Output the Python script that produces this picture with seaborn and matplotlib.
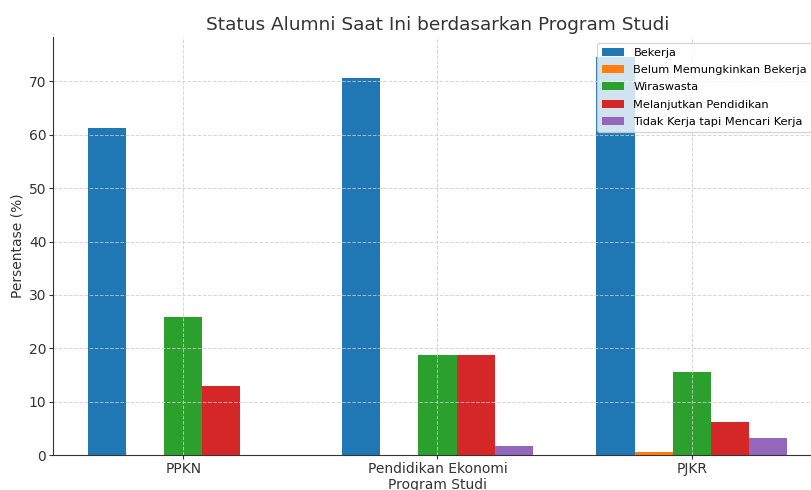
import matplotlib
matplotlib.use("Agg")
import matplotlib.pyplot as plt
import seaborn as sns
import pandas as pd

programs = ["PPKN", "Pendidikan Ekonomi", "PJKR"]
statuses = ["Bekerja", "Belum Memungkinkan Bekerja", "Wiraswasta",
            "Melanjutkan Pendidikan", "Tidak Kerja tapi Mencari Kerja"]
bekerja = [61.3, 70.6, 74.6]
belum = [0.0, 0.0, 0.6]
wiraswasta = [25.8, 18.8, 15.5]
melanjutkan = [12.9, 18.8, 6.2]
tidak_kerja = [0.0, 1.7, 3.1]

series = [bekerja, belum, wiraswasta, melanjutkan, tidak_kerja]
rows = []
for s, vals in zip(statuses, series):
    for p, v in zip(programs, vals):
        rows.append({"Program Studi": p, "Status": s, "Persentase": v})
df = pd.DataFrame(rows)

colors = ["#1f77b4", "#ff7f0e", "#2ca02c", "#d62728", "#9467bd"]

fig = plt.figure(figsize=(8.11, 4.90), dpi=100)
ax = fig.add_axes([53 / 811, 1 - 455 / 490, (822 - 53) / 811, (455 - 37) / 490])

sns.barplot(data=df, x="Program Studi", y="Persentase", hue="Status",
            order=programs, hue_order=statuses, palette=colors,
            saturation=1, width=0.75, gap=0, ax=ax, linewidth=0)

ax.set_xlim(-0.5125, 2.5125)
ax.set_ylim(0, 78.33)
ax.set_yticks([0, 10, 20, 30, 40, 50, 60, 70])
ax.spines["top"].set_visible(False)
ax.spines["right"].set_visible(False)
ax.grid(True, linestyle="--", color="#cccccc", linewidth=0.7, alpha=0.8)

tc = "#333333"
ax.set_title("Status Alumni Saat Ini berdasarkan Program Studi", fontsize=13.3, color=tc, pad=5)
ax.set_xlabel("Program Studi", fontsize=10, color=tc, labelpad=1.5)
ax.set_ylabel("Persentase (%)", fontsize=10, color=tc, labelpad=3)
ax.tick_params(labelsize=10, colors=tc, length=2.8, pad=2.0)
for sp in ax.spines.values():
    sp.set_color("#333333")

ax.legend(loc="upper left", fontsize=8.2, title=None, labelspacing=0.65,
          borderaxespad=0, bbox_to_anchor=((597 - 53) / 769, 1 - (43 - 37) / 418))

fig.savefig("out.png", dpi=100)
